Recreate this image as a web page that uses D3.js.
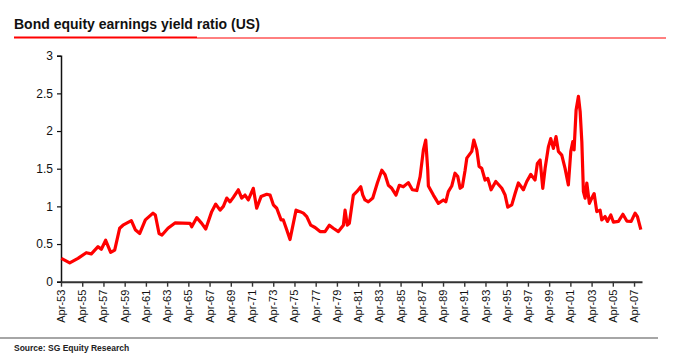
<!DOCTYPE html>
<html>
<head>
<meta charset="utf-8">
<script src="https://cdn.jsdelivr.net/npm/d3@7"></script>
<style>
  html, body { margin: 0; padding: 0; background: #ffffff; }
  svg { display: block; font-family: "Liberation Sans", Arial, Helvetica, sans-serif; }
</style>
</head>
<body>
<svg id="chart" width="680" height="364"></svg>
<script>
// ---- data (decimal year, ratio) ----
const years = [
  1953.28, 1954.07, 1954.85, 1955.63, 1956.11, 1956.74, 1957.05, 1957.46, 1957.93, 1958.31,
  1958.78, 1959.09, 1959.88, 1960.25, 1960.67, 1961.20, 1961.92, 1962.14, 1962.49, 1962.77,
  1963.33, 1963.99, 1965.41, 1965.57, 1966.04, 1966.51, 1966.89, 1967.45, 1967.83, 1968.24,
  1968.55, 1968.87, 1969.18, 1969.49, 1969.96, 1970.28, 1970.59, 1970.90, 1971.37, 1971.69,
  1972.10, 1972.64, 1972.95, 1973.26, 1973.58, 1973.99, 1974.20, 1974.52, 1974.83, 1975.40,
  1975.78, 1976.09, 1976.41, 1976.78, 1977.19, 1977.66, 1978.13, 1978.54, 1978.91, 1979.39,
  1979.86, 1980.02, 1980.23, 1980.42, 1980.80, 1981.12, 1981.50, 1981.69, 1981.90, 1982.21,
  1982.63, 1983.06, 1983.48, 1983.79, 1984.10, 1984.42, 1984.82, 1985.13, 1985.51, 1985.98,
  1986.36, 1986.78, 1987.09, 1987.40, 1987.62, 1987.81, 1987.87, 1988.34, 1988.81, 1989.28,
  1989.51, 1989.75, 1990.07, 1990.38, 1990.64, 1990.86, 1991.07, 1991.33, 1991.49, 1991.96,
  1992.15, 1992.43, 1992.65, 1992.90, 1993.21, 1993.47, 1993.78, 1994.22, 1994.79, 1995.10,
  1995.35, 1995.73, 1996.04, 1996.35, 1996.67, 1996.82, 1997.14, 1997.52, 1997.92, 1998.14,
  1998.40, 1998.65, 1998.87, 1999.18, 1999.40, 1999.65, 1999.90, 2000.12, 2000.44, 2000.75,
  2001.06, 2001.29, 2001.48, 2001.60, 2001.79, 2002.01, 2002.17, 2002.33, 2002.48, 2002.64,
  2002.80, 2003.04, 2003.27, 2003.49, 2003.74, 2004.05, 2004.21, 2004.52, 2004.74, 2005.06,
  2005.31, 2005.78, 2006.20, 2006.57, 2006.98, 2007.35, 2007.57, 2007.89
];
const ratios = [
  0.31, 0.25, 0.31, 0.385, 0.37, 0.465, 0.43, 0.55, 0.39, 0.42,
  0.71, 0.75, 0.81, 0.69, 0.64, 0.82, 0.91, 0.885, 0.64, 0.62,
  0.71, 0.78, 0.775, 0.73, 0.85, 0.775, 0.70, 0.93, 1.03, 0.95,
  1.00, 1.11, 1.06, 1.12, 1.22, 1.11, 1.15, 1.085, 1.24, 0.975,
  1.13, 1.16, 1.15, 1.02, 0.975, 0.82, 0.82, 0.69, 0.56, 0.95,
  0.93, 0.91, 0.865, 0.75, 0.72, 0.665, 0.665, 0.75, 0.71, 0.665,
  0.75, 0.95, 0.75, 0.775, 1.15, 1.195, 1.26, 1.15, 1.085, 1.06,
  1.11, 1.31, 1.48, 1.42, 1.28, 1.24, 1.15, 1.28, 1.26, 1.315,
  1.22, 1.21, 1.395, 1.75, 1.88, 1.48, 1.27, 1.15, 1.04, 1.085,
  1.06, 1.195, 1.27, 1.44, 1.395, 1.24, 1.26, 1.48, 1.64, 1.73,
  1.88, 1.75, 1.53, 1.505, 1.35, 1.37, 1.22, 1.33, 1.24, 1.15,
  0.99, 1.02, 1.17, 1.31, 1.25, 1.22, 1.33, 1.425, 1.35, 1.57,
  1.615, 1.24, 1.505, 1.79, 1.90, 1.77, 1.925, 1.73, 1.68, 1.505,
  1.285, 1.73, 1.86, 1.75, 2.28, 2.46, 2.26, 1.86, 1.195, 1.11,
  1.31, 1.04, 1.11, 1.17, 0.93, 0.95, 0.82, 0.865, 0.80, 0.885,
  0.79, 0.80, 0.895, 0.805, 0.80, 0.91, 0.865, 0.69
];
const xTickLabels = [
  "Apr-53","Apr-55","Apr-57","Apr-59","Apr-61","Apr-63","Apr-65","Apr-67","Apr-69","Apr-71",
  "Apr-73","Apr-75","Apr-77","Apr-79","Apr-81","Apr-83","Apr-85","Apr-87","Apr-89","Apr-91",
  "Apr-93","Apr-95","Apr-97","Apr-99","Apr-01","Apr-03","Apr-05","Apr-07"
];
const yTicks = [0, 0.5, 1, 1.5, 2, 2.5, 3];
const yTickLabels = ["0", "0.5", "1", "1.5", "2", "2.5", "3"];
const titleText = "Bond equity earnings yield ratio (US)";
const sourceText = "Source: SG Equity Research";

// ---- drawing ----
const svg = d3.select("#chart");
const data = years.map((y, i) => ({ t: y, v: ratios[i] }));
const labelYear = s => { const n = +s.slice(4); return (n > 40 ? 1900 : 2000) + n + 0.25; };

const x = d3.scaleLinear().domain([1953.25, 2008.0]).range([61, 642]);
const y = d3.scaleLinear().domain([0, 3]).range([281.7, 55.7]);

// title
svg.append("text")
  .attr("x", 14).attr("y", 29)
  .attr("font-size", 14).attr("font-weight", "bold").attr("fill", "#111")
  .text(titleText);
svg.append("line").attr("x1", 197).attr("x2", 666).attr("y1", 38).attr("y2", 38)
  .attr("stroke", "#ff0000").attr("stroke-width", 1);
svg.append("line").attr("x1", 14).attr("x2", 197).attr("y1", 37.5).attr("y2", 37.5)
  .attr("stroke", "#ff0000").attr("stroke-width", 2.2);

// y axis
const yAxis = d3.axisLeft(y).tickValues(yTicks)
  .tickFormat((d, i) => yTickLabels[i]).tickSize(4).tickPadding(4);
const gy = svg.append("g").attr("transform", "translate(61,0)").call(yAxis);
gy.select(".domain").attr("stroke", "#111").attr("stroke-width", 1.5);
gy.selectAll(".tick line").attr("stroke", "#111").attr("stroke-width", 1.2);
gy.selectAll("text").attr("font-size", 12).attr("fill", "#111")
  .attr("font-family", "Liberation Sans, Arial, sans-serif");

// x axis
const xAxis = d3.axisBottom(x).tickValues(xTickLabels.map(labelYear))
  .tickFormat((d, i) => xTickLabels[i]).tickSize(5).tickSizeOuter(0);
const gx = svg.append("g").attr("transform", "translate(0,281.7)").call(xAxis);
gx.select(".domain").attr("stroke", "#333").attr("stroke-width", 2);
gx.selectAll(".tick line").attr("stroke", "#333").attr("stroke-width", 1.4);
gx.selectAll("text")
  .attr("font-size", 11).attr("fill", "#111")
  .attr("font-family", "Liberation Sans, Arial, sans-serif")
  .attr("transform", "rotate(-90)")
  .attr("text-anchor", "end")
  .attr("x", -8).attr("y", 0).attr("dy", "0.32em");

// series line
svg.append("path")
  .datum(data)
  .attr("fill", "none")
  .attr("stroke", "#ff0000")
  .attr("stroke-width", 3.2)
  .attr("stroke-linejoin", "round")
  .attr("d", d3.line().x(d => x(d.t)).y(d => y(d.v)));

// footer
svg.append("line").attr("x1", 0).attr("x2", 658).attr("y1", 338).attr("y2", 338)
  .attr("stroke", "#a6a6a6").attr("stroke-width", 2);
svg.append("text")
  .attr("x", 14).attr("y", 351)
  .attr("font-size", 8.5).attr("font-weight", "bold").attr("fill", "#222")
  .text(sourceText);
</script>
</body>
</html>
